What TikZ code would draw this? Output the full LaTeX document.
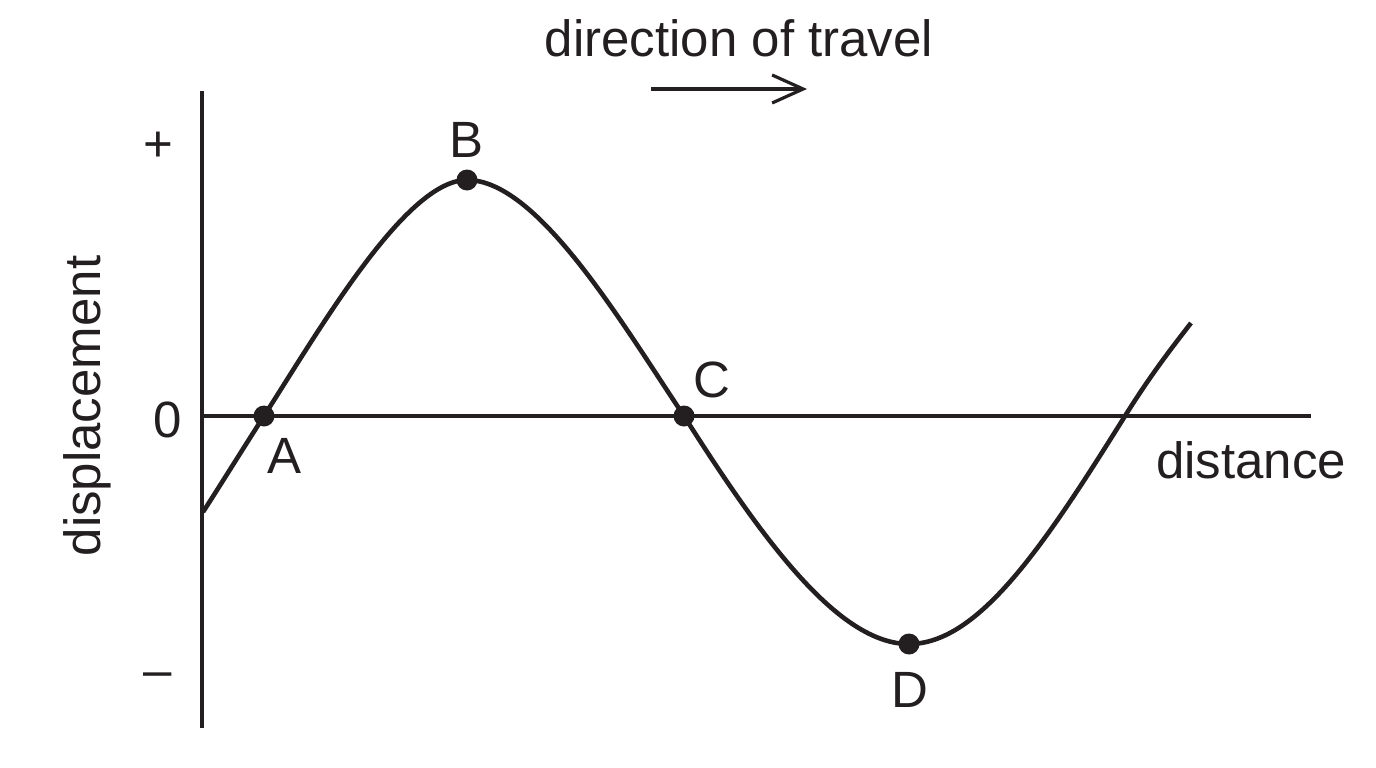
\documentclass[tikz,border=0pt]{standalone}
\usepackage{fontspec}
\setmainfont{Liberation Sans}
\usetikzlibrary{arrows.meta}
\definecolor{ink}{HTML}{231F20}
\begin{document}
\begin{tikzpicture}[x=1pt,y=-1pt,
  axis/.style={line width=3.2pt,draw=ink},
  wave/.style={line width=4.6pt,draw=ink,line join=round},
  dotpt/.style={fill=ink},
  lbl/.style={text=ink,inner sep=0pt,font=\fontsize{51}{60}\selectfont},
  dirarrow/.style={line width=3.2pt,draw=ink,-{Straight Barb[length=31pt,width=28pt,line width=3.2pt]}}]
\useasboundingbox (0,0) rectangle (1376,768);
% axes
\coordinate (ytop) at (202,91);
\coordinate (ybot) at (202,728);
\coordinate (xl) at (202,416);
\coordinate (xr) at (1311,416);
\draw[axis] (ytop) -- (ybot);
\draw[axis] (xl) -- (xr);
% wave
\coordinate (S) at (203,512);
\coordinate (A) at (264,416);
\coordinate (B) at (467,180);
\coordinate (C) at (684,416);
\coordinate (D) at (909,644);
\coordinate (Z) at (1125,416);
\coordinate (E) at (1191,323);
\draw[wave] (S) .. controls (223,481) and (244,447) .. (A)
  .. controls (324,322) and (407,180) .. (B)
  .. controls (537,180) and (619,318.5) .. (C)
  .. controls (764,542) and (839,644) .. (D)
  .. controls (979,644) and (1045,544) .. (Z)
  .. controls (1150,376) and (1170,350) .. (E);
\foreach \p in {A,B,C,D} \fill[dotpt] (\p) circle (10.5);
% labels
\node[lbl,anchor=base] (lA) at (285,473) {A};
\node[lbl,anchor=base] (lB) at (467,157) {B};
\node[lbl,anchor=base] (lC) at (712,397) {C};
\node[lbl,anchor=base] (lD) at (910,707) {D};
\node[lbl] (plus) at (158,147) {+};
\node[lbl,anchor=base] (zero) at (168,437) {0};
\node[lbl,anchor=base] (minus) at (158,687) {–};
\node[lbl,anchor=base,rotate=90] (disp) at (100,406) {displacement};
\node[lbl,anchor=base] (dist) at (1251,478) {distance};
\node[lbl,anchor=base] (dir) at (739,57) {direction of travel};
% direction arrow
\coordinate (a0) at (651,89);
\coordinate (a1) at (807,89);
\draw[dirarrow] (a0) -- (a1);
\end{tikzpicture}
\end{document}
